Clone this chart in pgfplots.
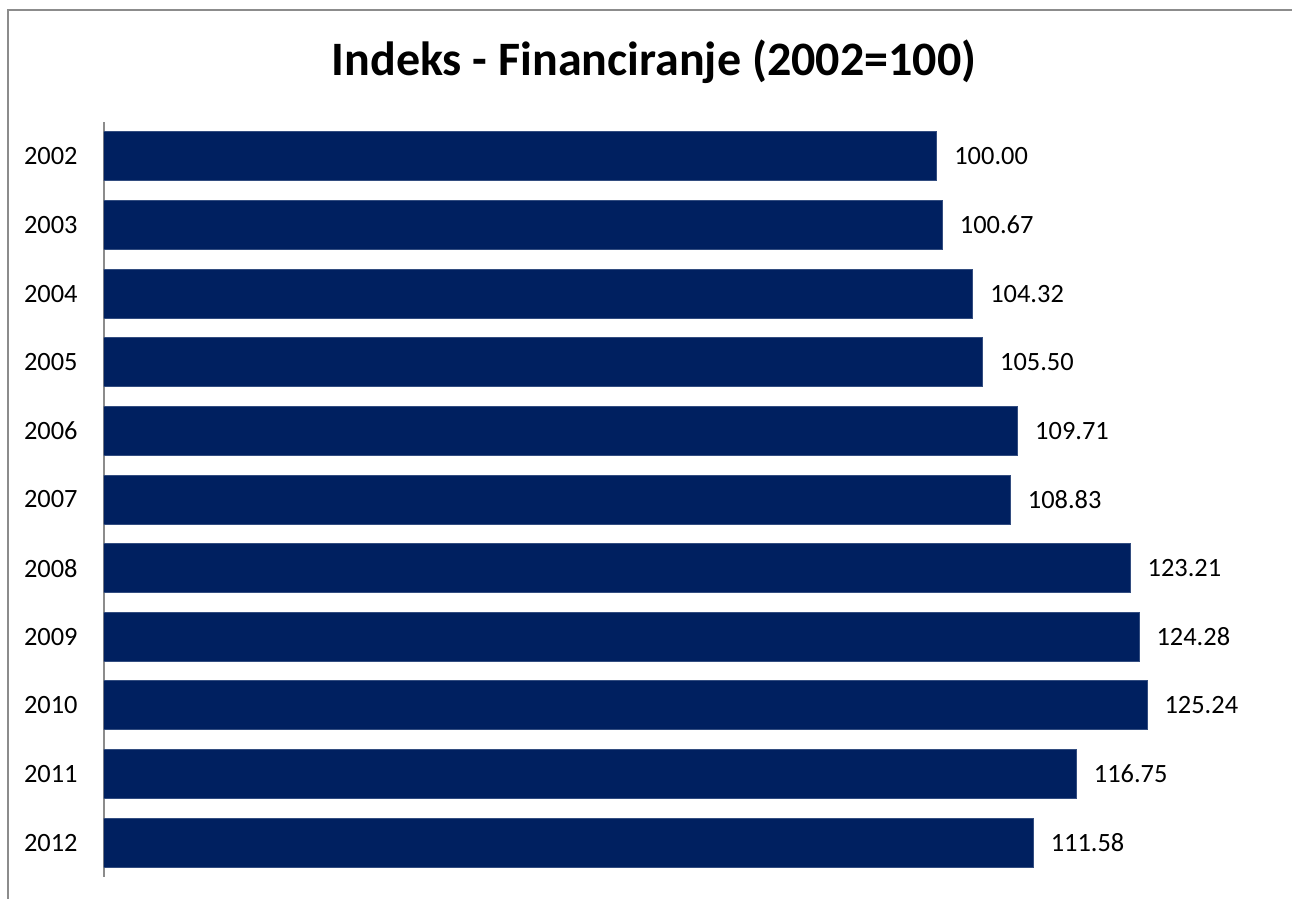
\documentclass[border=0pt]{standalone}
\usepackage{fontspec}
\setmainfont{Carlito}
\usepackage{pgfplots}
\pgfplotsset{compat=1.18}
\definecolor{barblue}{HTML}{002060}
\definecolor{framegray}{HTML}{8C8C8C}
\begin{document}
\begin{tikzpicture}
\path[use as bounding box] (0pt,0pt) rectangle (646pt,-449.5pt);
\draw[framegray, line width=1pt] (4pt,-449.5pt) -- (4pt,-5pt) -- (646pt,-5pt);
\node[font=\bfseries\fontsize{24}{28}\selectfont, anchor=base] at (327pt,-38pt) {Indeks - Financiranje (2002=100)};
\begin{axis}[
  at={(52pt,-61pt)}, anchor=north west,
  scale only axis,
  width=583pt, height=377.5pt,
  xbar, bar width=24.5pt,
  xmin=0, xmax=140,
  ymin=-0.5, ymax=10.5,
  y dir=reverse,
  axis x line=none,
  axis y line*=left,
  axis line style={framegray, line width=1pt},
  ytick={0,...,10},
  yticklabels={2002,2003,2004,2005,2006,2007,2008,2009,2010,2011,2012},
  major tick length=0pt,
  yticklabel style={font=\fontsize{13.2}{16}\selectfont, inner sep=0pt, xshift=-13pt},
  nodes near coords,
  nodes near coords align={horizontal},
  every node near coord/.append style={font=\fontsize{13.2}{16}\selectfont, black, inner sep=0pt, xshift=8.5pt, anchor=west},
  /pgf/number format/.cd, fixed, zerofill, precision=2, assume math mode=true,
]
\addplot[fill=barblue, draw=barblue!80!white, line width=0.5pt] coordinates {
(100.00,0) (100.67,1) (104.32,2) (105.50,3) (109.71,4) (108.83,5)
(123.21,6) (124.28,7) (125.24,8) (116.75,9) (111.58,10)};
\end{axis}
\end{tikzpicture}
\end{document}
